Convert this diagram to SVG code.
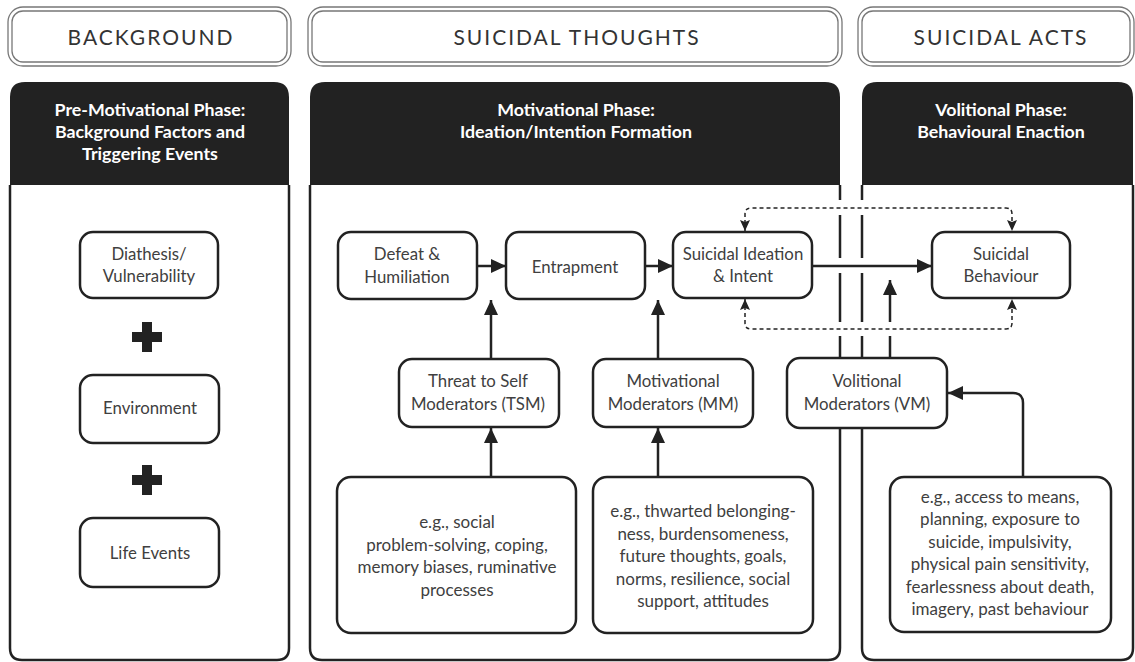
<svg xmlns="http://www.w3.org/2000/svg" width="1135" height="662" viewBox="0 0 1135 662">
<style>
  .hdrO{fill:none;stroke:#777;stroke-width:1.3}
  .hdrI{fill:none;stroke:#777;stroke-width:1.3}
  .hdrT{font-family:Lato,"Liberation Sans",sans-serif;font-size:21px;letter-spacing:2px;fill:#333;text-anchor:middle}
  .blk{fill:#222}
  .ph{font-family:Lato,"Liberation Sans",sans-serif;font-size:17.8px;font-weight:bold;fill:#fff;text-anchor:middle}
  .edge{fill:none;stroke:#222;stroke-width:2.5}
  .box{fill:#fff;stroke:#222;stroke-width:2.5}
  .t{font-family:Lato,"Liberation Sans",sans-serif;font-size:16.8px;fill:#404040;text-anchor:middle}
  .s{font-family:Lato,"Liberation Sans",sans-serif;font-size:17px;fill:#404040;text-anchor:middle}
  .arr{fill:none;stroke:#222;stroke-width:2.5}
  .dash{fill:none;stroke:#222;stroke-width:1.5;stroke-dasharray:4 3}
  .plus{fill:#222}
</style>
<defs>
  <marker id="ah" markerUnits="userSpaceOnUse" markerWidth="16" markerHeight="14" refX="15" refY="7" orient="auto">
    <path d="M0,0 L15,7 L0,14 Z" fill="#222"/>
  </marker>
  <marker id="dh" markerUnits="userSpaceOnUse" markerWidth="12" markerHeight="10" refX="11" refY="5" orient="auto-start-reverse">
    <path d="M0,0 L11,5 L0,10 L2,5 Z" fill="#222"/>
  </marker>
</defs>

<!-- section headers -->
<g id="hdr-background">
  <rect class="hdrO" x="8" y="7" width="283" height="59" rx="15"/>
  <rect class="hdrI" x="12" y="11" width="275" height="51" rx="11"/>
  <text class="hdrT" x="151" y="45">BACKGROUND</text>
</g>
<g id="hdr-thoughts">
  <rect class="hdrO" x="308" y="7" width="534" height="59" rx="15"/>
  <rect class="hdrI" x="312" y="11" width="526" height="51" rx="11"/>
  <text class="hdrT" x="577" y="45">SUICIDAL THOUGHTS</text>
</g>
<g id="hdr-acts">
  <rect class="hdrO" x="858" y="7" width="276" height="59" rx="15"/>
  <rect class="hdrI" x="862" y="11" width="268" height="51" rx="11"/>
  <text class="hdrT" x="1001" y="45">SUICIDAL ACTS</text>
</g>

<!-- phase panels -->
<g id="panel-premotivational">
  <path class="blk" d="M10,185 V97 Q10,82 25,82 H274 Q289,82 289,97 V185 Z"/>
  <path class="edge" d="M10,185 V648 Q10,660 22,660 H277 Q289,660 289,648 V185"/>
  <text class="ph" x="150" y="116">Pre-Motivational Phase:</text>
  <text class="ph" x="150" y="138">Background Factors and</text>
  <text class="ph" x="150" y="160">Triggering Events</text>
</g>
<g id="panel-motivational">
  <path class="blk" d="M310,185 V97 Q310,82 325,82 H825 Q840,82 840,97 V185 Z"/>
  <path class="edge" d="M310,185 V648 Q310,660 322,660 H828 Q840,660 840,648 V428"/>
  <path class="edge" d="M840,185 V200 M840,215 V258 M840,273 V322 M840,336 V358"/>
  <text class="ph" x="576" y="116">Motivational Phase:</text>
  <text class="ph" x="576" y="138">Ideation/Intention Formation</text>
</g>
<g id="panel-volitional">
  <path class="blk" d="M862,185 V97 Q862,82 877,82 H1118 Q1133,82 1133,97 V185 Z"/>
  <path class="edge" d="M1133,185 V648 Q1133,660 1121,660 H874 Q862,660 862,648 V428"/>
  <path class="edge" d="M862,185 V200 M862,215 V258 M862,273 V322 M862,336 V358"/>
  <text class="ph" x="1001" y="116">Volitional Phase:</text>
  <text class="ph" x="1001" y="138">Behavioural Enaction</text>
</g>

<!-- connectors -->
<g id="connectors">
  <path class="arr" d="M477,266 H506" marker-end="url(#ah)"/>
  <path class="arr" d="M645,266 H673" marker-end="url(#ah)"/>
  <path class="arr" d="M812,266 H932" marker-end="url(#ah)"/>
  <path class="arr" d="M491,359 V300" marker-end="url(#ah)"/>
  <path class="arr" d="M658,359 V300" marker-end="url(#ah)"/>
  <path class="arr" d="M491,477 V428" marker-end="url(#ah)"/>
  <path class="arr" d="M658,477 V428" marker-end="url(#ah)"/>
  <path class="arr" d="M890,358 V336"/>
  <path class="arr" d="M890,322 V280" marker-end="url(#ah)"/>
  <path class="arr" d="M1023,477 V403 Q1023,393 1013,393 H948" marker-end="url(#ah)"/>
  <path class="dash" d="M745,231 V214 Q745,208 751,208 H1006 Q1012,208 1012,214 V231" marker-start="url(#dh)" marker-end="url(#dh)"/>
  <path class="dash" d="M745,299 V323 Q745,329 751,329 H1006 Q1012,329 1012,323 V299" marker-start="url(#dh)" marker-end="url(#dh)"/>
</g>

<!-- background nodes -->
<g id="diathesis">
  <rect class="box" x="80" y="232" width="138" height="66" rx="13"/>
  <text class="t" x="149" y="260">Diathesis/</text>
  <text class="t" x="149" y="282">Vulnerability</text>
</g>
<g id="plus1"><path class="plus" d="M142,322 H152 V332 H162 V342 H152 V352 H142 V342 H132 V332 H142 Z"/></g>
<g id="environment">
  <rect class="box" x="80" y="375" width="139" height="68" rx="13"/>
  <text class="t" x="150" y="414">Environment</text>
</g>
<g id="plus2"><path class="plus" d="M142,465 H152 V475 H162 V485 H152 V495 H142 V485 H132 V475 H142 Z"/></g>
<g id="life-events">
  <rect class="box" x="80" y="518" width="139" height="69" rx="13"/>
  <text class="t" x="150" y="559">Life Events</text>
</g>

<!-- motivational nodes -->
<g id="defeat">
  <rect class="box" x="338" y="232" width="139" height="67" rx="13"/>
  <text class="t" x="407" y="260">Defeat &amp;</text>
  <text class="t" x="407" y="283">Humiliation</text>
</g>
<g id="entrapment">
  <rect class="box" x="506" y="232" width="139" height="67" rx="13"/>
  <text class="t" x="575" y="273">Entrapment</text>
</g>
<g id="ideation">
  <rect class="box" x="673" y="232" width="139" height="66" rx="13"/>
  <text class="t" x="743" y="260">Suicidal Ideation</text>
  <text class="t" x="743" y="282">&amp; Intent</text>
</g>
<g id="tsm">
  <rect class="box" x="399" y="359" width="160" height="68" rx="13"/>
  <text class="t" x="478" y="387">Threat to Self</text>
  <text class="t" x="478" y="410">Moderators (TSM)</text>
</g>
<g id="mm">
  <rect class="box" x="593" y="359" width="160" height="68" rx="13"/>
  <text class="t" x="673" y="387">Motivational</text>
  <text class="t" x="673" y="410">Moderators (MM)</text>
</g>
<g id="tsm-examples">
  <rect class="box" x="337" y="477" width="239" height="156" rx="14"/>
  <text class="s" x="457" y="528">e.g., social</text>
  <text class="s" x="457" y="551">problem-solving, coping,</text>
  <text class="s" x="457" y="573">memory biases, ruminative</text>
  <text class="s" x="457" y="596">processes</text>
</g>
<g id="mm-examples">
  <rect class="box" x="593" y="477" width="220" height="156" rx="14"/>
  <text class="s" x="703" y="517">e.g., thwarted belonging-</text>
  <text class="s" x="703" y="540">ness, burdensomeness,</text>
  <text class="s" x="703" y="562">future thoughts, goals,</text>
  <text class="s" x="703" y="585">norms, resilience, social</text>
  <text class="s" x="703" y="607">support, attitudes</text>
</g>

<!-- volitional nodes -->
<g id="vm">
  <rect class="box" x="787" y="358" width="160" height="70" rx="13"/>
  <text class="t" x="867" y="387">Volitional</text>
  <text class="t" x="867" y="410">Moderators (VM)</text>
</g>
<g id="behaviour">
  <rect class="box" x="932" y="232" width="138" height="66" rx="13"/>
  <text class="t" x="1001" y="260">Suicidal</text>
  <text class="t" x="1001" y="282">Behaviour</text>
</g>
<g id="vm-examples">
  <rect class="box" x="890" y="477" width="221" height="155" rx="14"/>
  <text class="s" x="1000" y="503">e.g., access to means,</text>
  <text class="s" x="1000" y="525">planning, exposure to</text>
  <text class="s" x="1000" y="548">suicide, impulsivity,</text>
  <text class="s" x="1000" y="570">physical pain sensitivity,</text>
  <text class="s" x="1000" y="593">fearlessness about death,</text>
  <text class="s" x="1000" y="615">imagery, past behaviour</text>
</g>
</svg>
